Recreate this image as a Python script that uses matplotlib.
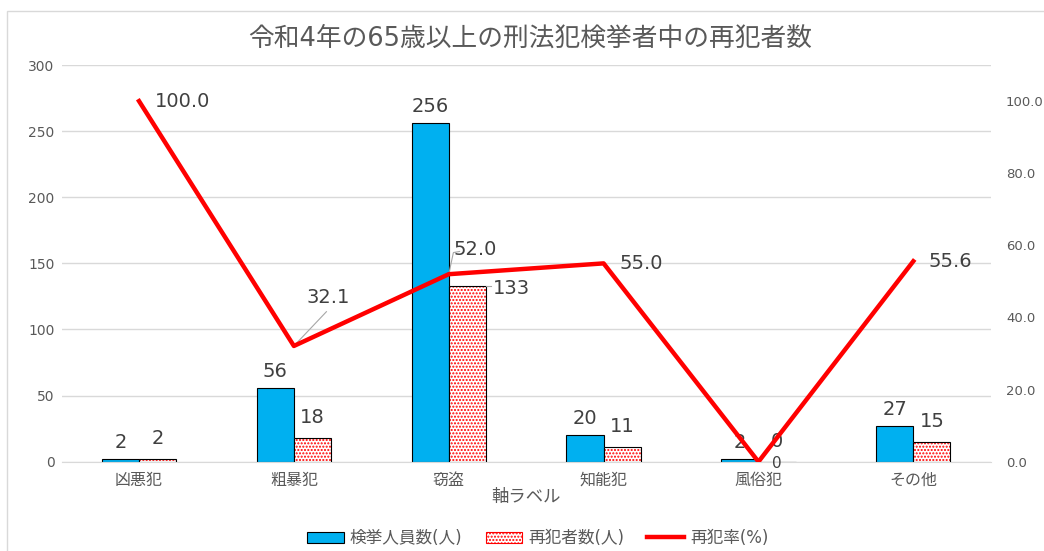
import matplotlib.pyplot as plt
from matplotlib.patches import Rectangle
import numpy as np

plt.rcParams['font.family'] = ['DejaVu Sans', 'Noto Sans CJK JP']

# data
categories = ['凶悪犯', '粗暴犯', '窃盗', '知能犯', '風俗犯', 'その他']
arrested = [2, 56, 256, 20, 2, 27]
repeat = [2, 18, 133, 11, 0, 15]
rate = [100.0, 32.1, 52.0, 55.0, 0.0, 55.6]
rate_labels = ['100.0', '32.1', '52.0', '55.0', '0', '55.6']

fig = plt.figure(figsize=(10.44, 5.51), dpi=100)
ax = fig.add_axes([0.059, 0.162, 0.89, 0.72])
ax2 = ax.twinx()

x = np.arange(len(categories))
w = 0.24
txt = '#404040'

ax.bar(x - w/2, arrested, w, color='#00B0F0', edgecolor='black', linewidth=0.8, zorder=2)
ax.bar(x + w/2, repeat, w, color='white', edgecolor='red', hatch='.....', linewidth=0, zorder=2)
ax.bar(x + w/2, repeat, w, fill=False, edgecolor='black', linewidth=0.8, zorder=3)

ax.set_ylim(0, 300)
ax.set_yticks(range(0, 301, 50))
ax.set_xlim(-0.5, len(categories) - 0.5)
ax.set_xticks(x)
ax.set_xticklabels(categories, fontsize=11.5, color='#595959')
ax.tick_params(axis='y', labelsize=10, colors='#595959', length=0, pad=5)
ax.tick_params(axis='x', length=0, pad=8)
ax.grid(axis='y', color='#d9d9d9', linewidth=1, zorder=0)
ax.set_axisbelow(True)
for s in ax.spines.values():
    s.set_visible(False)
ax.spines['bottom'].set_visible(True)
ax.spines['bottom'].set_color('#d9d9d9')
ax.set_xlabel('軸ラベル', fontsize=12.5, color='#595959', labelpad=0)

ax2.plot(x, rate, color='red', linewidth=3.2, zorder=4)
ax2.set_ylim(0, 110)
ax2.set_yticks(range(0, 101, 20))
ax2.set_yticklabels(['%.1f' % v for v in range(0, 101, 20)])
ax2.tick_params(axis='y', labelsize=9.5, colors='#595959', length=0, pad=11)
for s in ax2.spines.values():
    s.set_visible(False)

# bar labels
fs = 14
for i in range(len(categories)):
    ax.annotate(str(arrested[i]), (x[i] - w/2, arrested[i]), xytext=(0, 5),
                textcoords='offset points', fontsize=fs, color=txt, ha='center', va='bottom')
    if i != 2:
        ax.annotate(str(repeat[i]), (x[i] + w/2, repeat[i]), xytext=(0, 8),
                    textcoords='offset points', fontsize=fs, color=txt, ha='center', va='bottom')
# moved label for 133 with leader line
ax.plot([x[2] + w, x[2] + w + 0.03], [133, 133], color='#a6a6a6', lw=0.8, zorder=5)
ax.text(x[2] + w + 0.045, 131, str(repeat[2]), fontsize=fs, color=txt, ha='left', va='center')

# rate labels
rl = dict(fontsize=fs, color=txt, va='center', ha='left')
ax2.text(x[0] + 0.1, rate[0], rate_labels[0], **rl)
ax2.plot([x[1], x[1] + 0.21], [rate[1], rate[1] + 9.5], color='#a6a6a6', lw=0.8)
ax2.text(x[1] + 0.08, rate[1] + 13.5, rate_labels[1], **rl)
ax2.plot([x[2], x[2] + 0.03, x[2] + 0.07], [rate[2], rate[2] + 6, rate[2] + 6.3], color='#a6a6a6', lw=0.8)
ax2.text(x[2] + 0.03, rate[2] + 6.8, rate_labels[2], **rl)
ax2.text(x[3] + 0.1, rate[3], rate_labels[3], **rl)
ax2.annotate(rate_labels[4], (x[4], rate[4]), xytext=(13, -1.5), textcoords='offset points',
             fontsize=11, color=txt, va='center', ha='center')
ax2.text(x[5] + 0.1, rate[5], rate_labels[5], **rl)

fig.text(0.508, 0.93, '令和4年の65歳以上の刑法犯検挙者中の再犯者数', fontsize=18.5,
         color='#595959', ha='center', va='center')

handles = [Rectangle((0, 0), 1, 1, facecolor='#00B0F0', edgecolor='black', lw=0.8),
           Rectangle((0, 0), 1, 1, facecolor='white', edgecolor='red', hatch='.....', lw=0.8),
           plt.Line2D([0], [0], color='red', lw=3.2)]
fig.legend(handles, ['検挙人員数(人)', '再犯者数(人)', '再犯率(%)'], loc='center',
           bbox_to_anchor=(0.515, 0.023), ncol=3, frameon=False, fontsize=12,
           handlelength=2.2, handletextpad=0.35, columnspacing=1.4, labelcolor='#595959')

fig.add_artist(Rectangle((0.007, -0.01), 1.2, 0.99, transform=fig.transFigure,
                         fill=False, edgecolor='#d9d9d9', lw=1))

fig.savefig('out.png', dpi=100)
